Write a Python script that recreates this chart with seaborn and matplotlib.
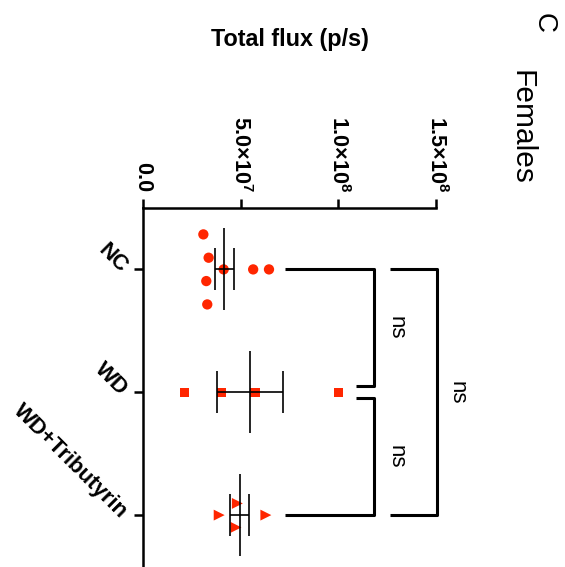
import numpy as np
import pandas as pd
import matplotlib
matplotlib.use("Agg")
import matplotlib.pyplot as plt
import seaborn as sns

# ---------------- data ----------------
groups = ["NC", "WD", "WD+Tributyrin"]
nc_flux = [3.09e7, 3.36e7, 4.13e7, 3.24e7, 3.29e7, 5.64e7, 6.45e7]
nc_spread = [-0.285, -0.095, 0.0, 0.095, 0.285, 0.0, 0.0]
wd_flux = [2.11e7, 4.03e7, 5.73e7, 1.00e8]
wd_spread = [0.0, 0.0, 0.0, 0.0]
wdt_flux = [3.90e7, 4.83e7, 4.76e7, 6.29e7]
wdt_spread = [0.0, -0.095, 0.10, 0.0]
value_ticks = [0, 5e7, 1e8, 1.5e8]
value_tick_labels = ["0.0", r"5.0×10$^{\mathbf{7}}$", r"1.0×10$^{\mathbf{8}}$", r"1.5×10$^{\mathbf{8}}$"]
comparison_labels = ["ns", "ns", "ns"]
axis_title = "Total flux (p/s)"
panel_title = "Females"
panel_letter = "C"

# ---------------- style ----------------
sns.set_theme(style="ticks")
plt.rcParams["font.family"] = ["Liberation Sans", "DejaVu Sans"]
plt.rcParams["mathtext.fontset"] = "custom"
plt.rcParams["mathtext.rm"] = "Liberation Sans"
plt.rcParams["mathtext.bf"] = "Liberation Sans:bold"
plt.rcParams["mathtext.default"] = "bf"
for k in ["text.color", "axes.labelcolor", "xtick.color", "ytick.color", "axes.edgecolor"]:
    plt.rcParams[k] = "black"

RED = "#FF2600"

rows = []
for gi, (g, vals, spr) in enumerate(zip(groups, [nc_flux, wd_flux, wdt_flux],
                                         [nc_spread, wd_spread, wdt_spread])):
    for v, s in zip(vals, spr):
        rows.append({"group": g, "flux": v, "pos": gi + s})
df = pd.DataFrame(rows)

fig = plt.figure(figsize=(5.65, 5.67), dpi=100)
ax = fig.add_axes([143 / 565, -0.0168, (436 - 143) / 565, 0.65])

sns.scatterplot(data=df, x="flux", y="pos", style="group", size="group",
                markers={"NC": "o", "WD": "s", "WD+Tributyrin": ">"},
                sizes={"NC": 55, "WD": 45, "WD+Tributyrin": 62},
                color=RED, edgecolor="none", linewidth=0, legend=False,
                ax=ax, zorder=2, clip_on=False)

# mean and SEM
for gi, vals in enumerate([nc_flux, wd_flux, wdt_flux]):
    arr = np.asarray(vals)
    m = arr.mean()
    se = arr.std(ddof=1) / np.sqrt(len(arr))
    ax.errorbar(m, gi, xerr=se, fmt="none", ecolor="black", elinewidth=1.2,
                capsize=15, capthick=1.2, zorder=3)
    ax.vlines(m, gi - 0.333, gi + 0.333, color="black", lw=1.2, zorder=3)

# significance brackets
blw = 2.2
def seg(xs, ys):
    ax.plot(xs, ys, color="black", lw=blw, clip_on=False, solid_capstyle="butt")

seg([7.27e7, 11.82e7, 11.82e7, 10.9e7], [0, 0, 0.951, 0.951])
seg([10.9e7, 11.82e7, 11.82e7, 7.27e7], [1.046, 1.046, 2, 2])
seg([12.64e7, 15.05e7, 15.05e7, 12.64e7], [0, 0, 2, 2])
for (tx, ty), lab in zip([(12.95e7, 0.476), (12.95e7, 1.523), (16.1e7, 1.0)], comparison_labels):
    ax.text(tx, ty, lab, rotation=-90, ha="center", va="center", fontsize=16,
            clip_on=False)

# axes
ax.set_xlim(0, 1.5e8)
ax.set_ylim(2.5, -0.5)
ax.xaxis.tick_top()
ax.xaxis.set_label_position("top")
ax.set_xticks(value_ticks)
ax.set_xticklabels(value_tick_labels, rotation=-90, fontweight="bold", fontsize=15.5)
ax.set_yticks([0, 1, 2])
ax.set_yticklabels(groups, rotation=-45, ha="right", va="center",
                   rotation_mode="anchor", fontweight="bold", fontsize=16)
ax.set_ylabel("")
ax.set_xlabel(axis_title, fontweight="bold", fontsize=16.8)
ax.xaxis.set_label_coords(0.5, 1.44)
ax.tick_params(axis="both", length=6.5, width=1.8, direction="out", color="black")
ax.tick_params(axis="x", pad=5)
ax.tick_params(axis="y", pad=7)
for side in ["right", "bottom"]:
    ax.spines[side].set_visible(False)
for side in ["left", "top"]:
    ax.spines[side].set_linewidth(1.8)
    ax.spines[side].set_color("black")

fig.text(522 / 565, 1 - 127 / 567, panel_title, rotation=-90, ha="center",
         va="center", fontsize=21.5)
fig.text(544 / 565, 1 - 23 / 567, panel_letter, rotation=-90, ha="center",
         va="center", fontsize=20)

fig.savefig("out.png", dpi=100)
